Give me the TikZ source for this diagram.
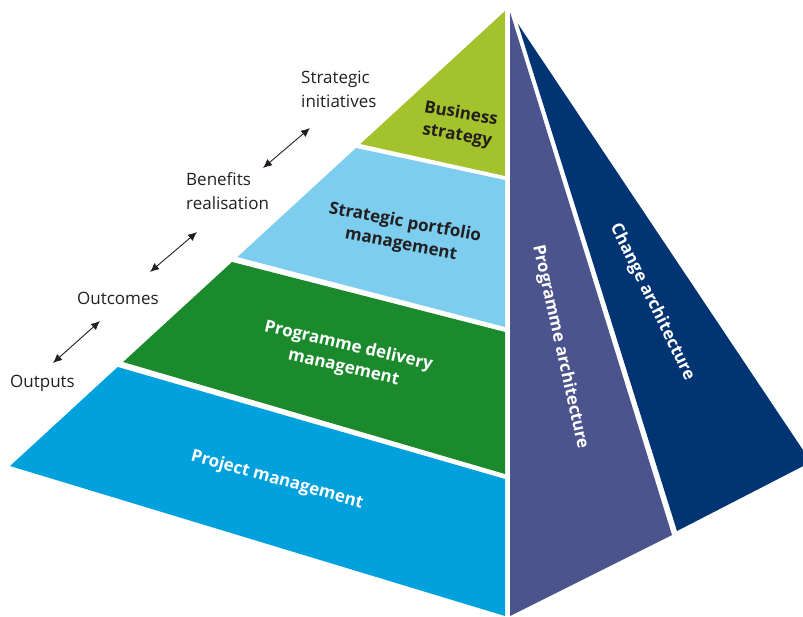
\documentclass[tikz,border=0pt]{standalone}
\usepackage{fontspec}
\setmainfont{Open Sans}
\usetikzlibrary{arrows.meta}
\definecolor{bizgreen}{HTML}{A3C22C}
\definecolor{portblue}{HTML}{7CCDEE}
\definecolor{progreen}{HTML}{1B8A2D}
\definecolor{projblue}{HTML}{00A1DD}
\definecolor{archpurple}{HTML}{4B548C}
\definecolor{changenavy}{HTML}{003473}
\definecolor{labelgray}{HTML}{231F20}
\begin{document}
\begin{tikzpicture}[x=1pt,y=-1pt,
  label/.style={font=\fontsize{17}{24}\selectfont, text=labelgray, align=left, anchor=base west, inner sep=0pt},
  bandtext/.style={font=\fontsize{17}{22}\selectfont\bfseries, align=center, inner sep=0pt},
  link/.style={{Latex[length=9pt,width=8pt]}-{Latex[length=9pt,width=8pt]}, line width=0.9pt, draw=labelgray}]
\useasboundingbox (0,0) rectangle (803,616);
\clip (0,0) rectangle (803,616);
% left face bands
\fill[bizgreen] (505,11) -- (505,176) -- (360.3,144) -- cycle;
\fill[portblue] (356,148) -- (505,180) -- (505,327) -- (237.4,257) -- cycle;
\fill[progreen] (232,262) -- (505,332) -- (505,474) -- (123.1,362) -- cycle;
\fill[projblue] (117.7,367) -- (505,479) -- (505,616) -- (10,466) -- cycle;
% right faces
\fill[archpurple] (510,12) -- (672,535) -- (510,616) -- cycle;
\fill[changenavy] (518,24) -- (811,462) -- (677,531) -- cycle;
% band texts
\node[bandtext, text=labelgray, rotate=-10] (biz) at (459,125) {Business\\strategy};
\node[bandtext, text=labelgray, rotate=-10.5] (port) at (403,234) {Strategic portfolio\\management};
\node[bandtext, text=white, rotate=-13] (prog) at (346,357) {Programme delivery\\management};
\node[bandtext, text=white, rotate=-15.5] (proj) at (277,480) {Project management};
\node[bandtext, text=white, rotate=-77.5] (parch) at (560,347) {Programme architecture};
\node[bandtext, text=white, rotate=-64] (carch) at (652,302) {Change architecture};
% left labels (anchor is baseline of last line)
\node[label] (si) at (301,107) {Strategic\\initiatives};
\node[label] (br) at (186,209) {Benefits\\realisation};
\node[label] (oc) at (77,304) {Outcomes};
\node[label] (op) at (10,387) {Outputs};
% arrows
\coordinate (a1s) at (263,168); \coordinate (a1e) at (310,128);
\coordinate (a2s) at (150,272); \coordinate (a2e) at (197,232);
\coordinate (a3s) at (53,363); \coordinate (a3e) at (100,321);
\draw[link] (a1s) -- (a1e);
\draw[link] (a2s) -- (a2e);
\draw[link] (a3s) -- (a3e);
\end{tikzpicture}
\end{document}
